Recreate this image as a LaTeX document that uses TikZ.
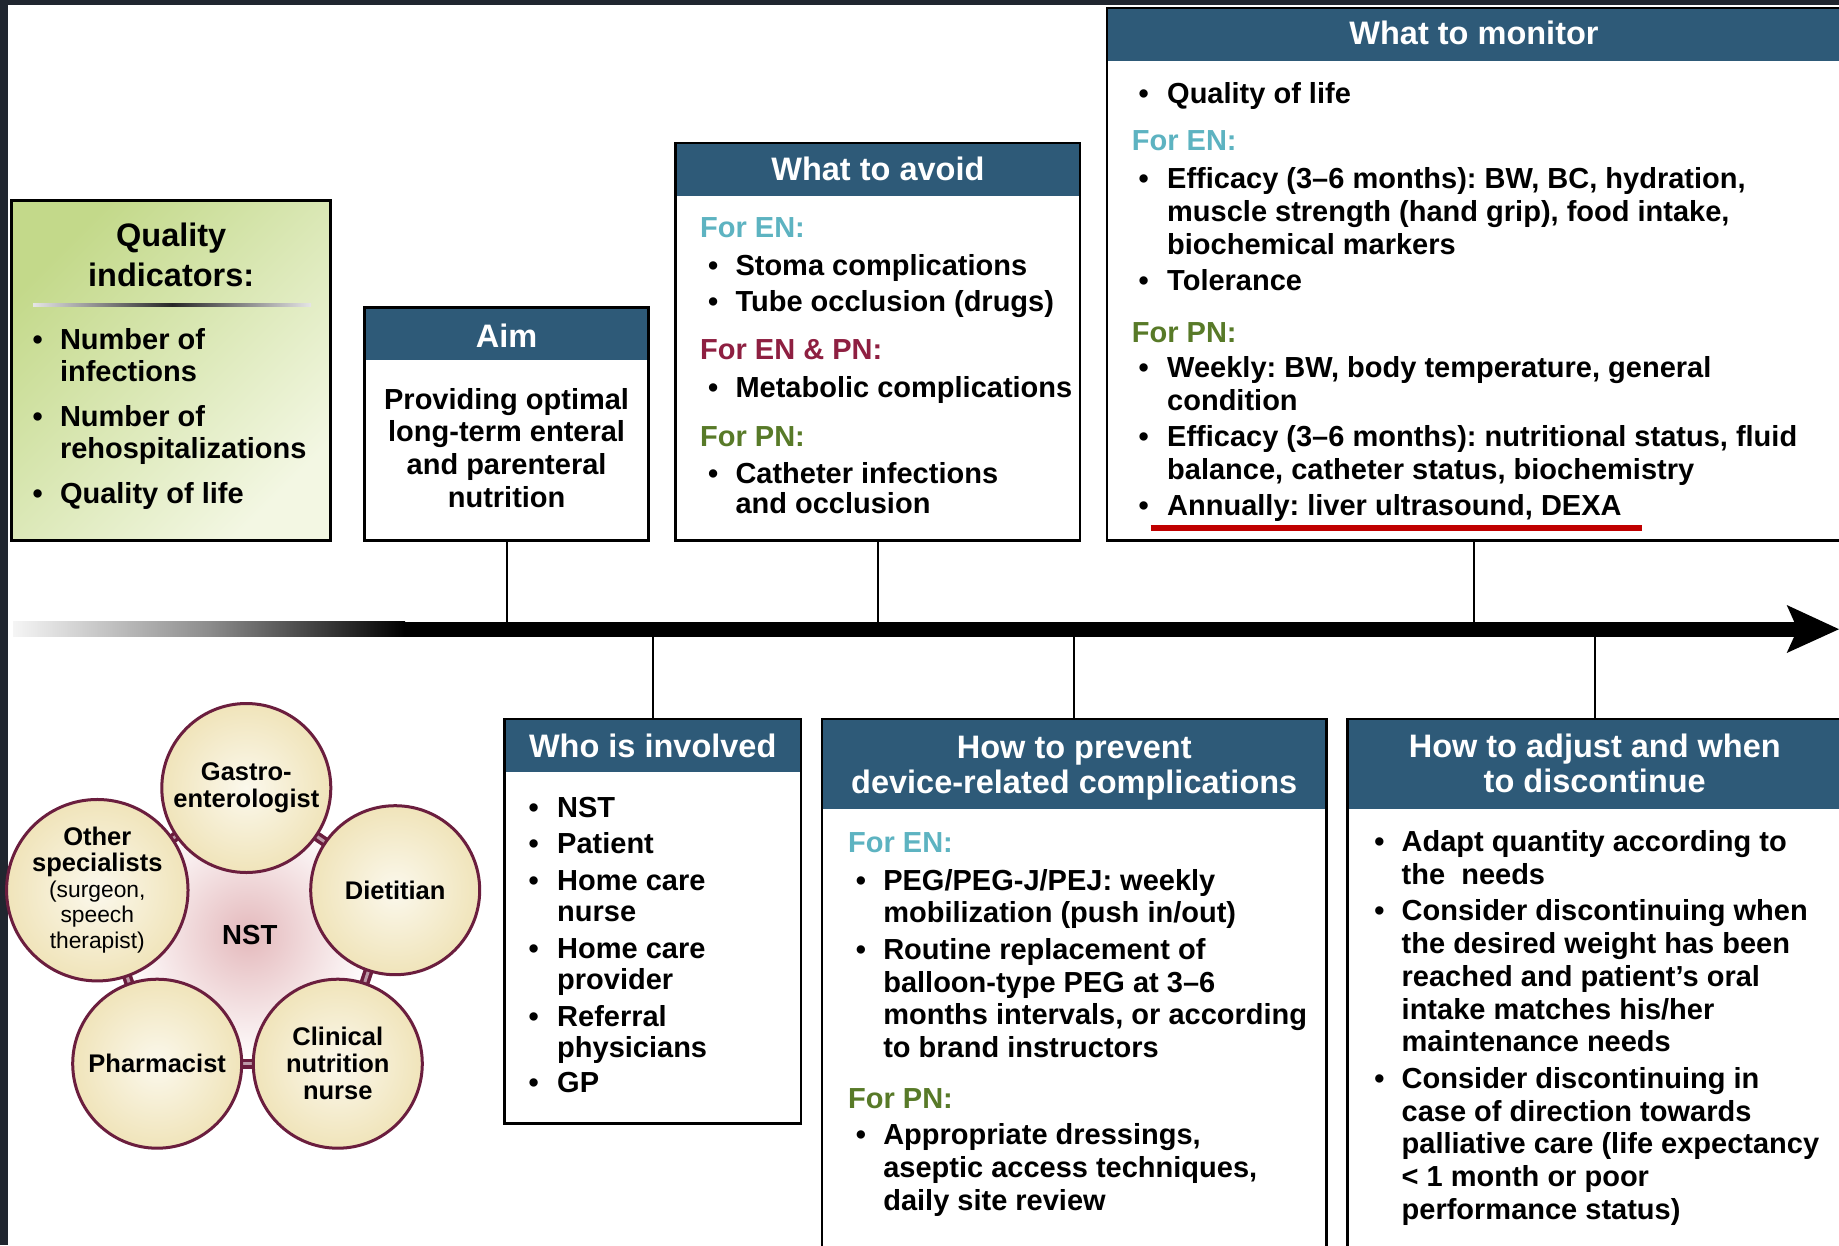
\documentclass[tikz,border=0pt]{standalone}
\usepackage{fontspec}
\setmainfont{Liberation Sans}
\usetikzlibrary{calc}
\frenchspacing
\definecolor{hdr}{HTML}{2E5A78}
\definecolor{enc}{HTML}{5DB3C1}
\definecolor{bothc}{HTML}{8E1F41}
\definecolor{pnc}{HTML}{587A28}
\definecolor{maroon}{HTML}{6B1E3E}
\definecolor{cream}{HTML}{F0E4BA}
\definecolor{creamL}{HTML}{FBF8EC}
\definecolor{qigreen}{HTML}{C3D98A}
\definecolor{qipale}{HTML}{F3F7E3}
\definecolor{framec}{HTML}{20262F}
\definecolor{nstpink}{HTML}{E4B9BC}
\definecolor{redline}{HTML}{C00000}
\tikzset{
  boxline/.style={draw=black, line width=2.5pt},
  boxbg/.style={rectangle, fill=white, draw=black, line width=2.5pt, inner sep=0pt, outer sep=0pt, anchor=north west},
  hdrbg/.style={rectangle, fill=hdr, inner sep=0pt, outer sep=0pt, anchor=north west},
  hdrtxt/.style={text=white, font=\bfseries\fontsize{32.5}{35.2}\selectfont, align=center, inner sep=0pt},
  bodytxt/.style={font=\bfseries\fontsize{29}{33}\selectfont, inner sep=0pt, anchor=base west},
  conn/.style={draw=black, line width=2pt},
  circ/.style={circle, draw=maroon, line width=3pt, minimum size=169pt, inner sep=0pt, inner color=creamL, outer color=cream, align=center, font=\bfseries\fontsize{25.5}{27}\selectfont},
  link/.style={draw=maroon, line width=3.5pt, double=maroon!45!white, double distance=3pt},
}
\newcommand\myTL[4]{\node[bodytxt] (#1) at (#2,{#3+10.4}) {#4};}
\newcommand\myBL[5]{\node[bodytxt] (#1b) at ({#2-5.1},{#4+10.4}) {•};\node[bodytxt] (#1) at (#3,{#4+10.4}) {#5};}
\newcommand\myHL[5]{\node[bodytxt,text=#5] (#1) at (#2,{#3+10.4}) {#4};}
\newcommand\myrg{\mdseries\fontsize{22.8}{25.8}\selectfont}
\begin{document}
\begin{tikzpicture}[x=1pt,y=-1pt]
\useasboundingbox (0,0) rectangle (1839,1245);
\fill[white] (0,0) rectangle (1839,1245);
\fill[framec] (0,0) rectangle (1839,4.5);
\fill[framec] (0,0) rectangle (7.5,1245);

% ---------- Quality indicators
\node[boxbg, top color=qigreen, bottom color=qipale, shading angle=45, minimum width=319pt, minimum height=340.2pt] (qi) at (11.7,200.5) {};
\node[font=\bfseries\fontsize{32.5}{40}\selectfont, align=center, inner sep=0pt] (qiT) at (171.2,254.4) {Quality\\indicators:};
\shade[left color=black!10, right color=black!10, middle color=black!85] (33,303.8) rectangle (311,306.6);
\myBL{qi1}{37.5}{59.8}{339}{Number of}
\myTL{qi1c}{59.8}{370.6}{infections}
\myBL{qi2}{37.5}{59.8}{416.3}{Number of}
\myTL{qi2c}{59.8}{448}{rehospitalizations}
\myBL{qi3}{37.5}{59.8}{492.6}{Quality of life}

% ---------- Aim
\node[boxbg, minimum width=283.9pt, minimum height=233.4pt] (aim) at (364.7,307.3) {};
\node[hdrbg, minimum width=283.9pt, minimum height=52.7pt] (aimH) at (aim.north west) {};
\draw[boxline] (aim.north west) rectangle (aim.south east);
\node[hdrtxt] (aimT) at (506.6,335.4) {Aim};
\node[font=\bfseries\fontsize{29}{32.8}\selectfont, align=center, inner sep=0pt] (aimB) at (506.6,448) {Providing optimal\\long-term enteral\\and parenteral\\nutrition};

% ---------- What to avoid
\node[boxbg, minimum width=404.7pt, minimum height=397.6pt] (avoid) at (675.5,143.1) {};
\node[hdrbg, minimum width=404.7pt, minimum height=52.8pt] (avoidH) at (avoid.north west) {};
\draw[boxline] (avoid.north west) rectangle (avoid.south east);
\node[hdrtxt] (avoidT) at (877.9,168.9) {What to avoid};
\myHL{av0}{700}{227.5}{For EN:}{enc}
\myBL{av1}{713}{735.3}{265}{Stoma complications}
\myBL{av2}{713}{735.3}{301.4}{Tube occlusion (drugs)}
\myHL{av3}{700}{349.5}{For EN \& PN:}{bothc}
\myBL{av4}{713}{735.3}{387}{Metabolic complications}
\myHL{av5}{700}{436.3}{For PN:}{pnc}
\myBL{av6}{713}{735.3}{472.6}{Catheter infections}
\myTL{av6c}{735.3}{503.1}{and occlusion}

% ---------- What to monitor
\node[boxbg, minimum width=734pt, minimum height=532.5pt] (mon) at (1107,8.2) {};
\node[hdrbg, minimum width=734pt, minimum height=52.8pt] (monH) at (mon.north west) {};
\draw[boxline] (mon.north west) rectangle (mon.south east);
\node[hdrtxt] (monT) at (1474,32.8) {What to monitor};
\myBL{mo1}{1143.5}{1167}{92.7}{Quality of life}
\myHL{mo2}{1131.7}{139.6}{For EN:}{enc}
\myBL{mo3}{1143.5}{1167}{178.3}{Efficacy (3–6 months): BW, BC, hydration,}
\myTL{mo3c}{1167}{211.1}{muscle strength (hand grip), food intake,}
\myTL{mo3d}{1167}{243.9}{biochemical markers}
\myBL{mo4}{1143.5}{1167}{280.3}{Tolerance}
\myHL{mo5}{1131.7}{331.9}{For PN:}{pnc}
\myBL{mo6}{1143.5}{1167}{367.1}{Weekly: BW, body temperature, general}
\myTL{mo6c}{1167}{399.9}{condition}
\myBL{mo7}{1143.5}{1167}{436.3}{Efficacy (3–6 months): nutritional status, fluid}
\myTL{mo7c}{1167}{469.1}{balance, catheter status, biochemistry}
\myBL{mo8}{1143.5}{1167}{505.5}{Annually: liver ultrasound, DEXA}
\draw[redline, line width=6pt] (1150.5,528.4) -- (1641.9,528.4);

% ---------- Who is involved
\node[boxbg, minimum width=296.7pt, minimum height=404.5pt] (who) at (504.3,719) {};
\node[hdrbg, minimum width=296.7pt, minimum height=52.7pt] (whoH) at (who.north west) {};
\draw[boxline] (who.north west) rectangle (who.south east);
\node[hdrtxt] (whoT) at (652.7,745.9) {Who is involved};
\myBL{wh1}{533.6}{557}{806.9}{NST}
\myBL{wh2}{533.6}{557}{843.2}{Patient}
\myBL{wh3}{533.6}{557}{879.6}{Home care}
\myTL{wh3c}{557}{911.3}{nurse}
\myBL{wh4}{533.6}{557}{947.6}{Home care}
\myTL{wh4c}{557}{979.3}{provider}
\myBL{wh5}{533.6}{557}{1015.6}{Referral}
\myTL{wh5c}{557}{1047.3}{physicians}
\myBL{wh6}{533.6}{557}{1082.5}{GP}

% ---------- How to prevent
\node[boxbg, minimum width=504.3pt, minimum height=535pt] (prev) at (822.1,719) {};
\node[hdrbg, minimum width=504.3pt, minimum height=90.2pt] (prevH) at (prev.north west) {};
\draw[boxline] (prev.north west) rectangle (prev.south east);
\node[hdrtxt] (prevT) at (1074.25,768.2) {How to prevent\\device-related complications};
\myHL{pr0}{848}{842}{For EN:}{enc}
\myBL{pr1}{860.8}{883.1}{879.6}{PEG/PEG-J/PEJ: weekly}
\myTL{pr1c}{883.1}{912.4}{mobilization (push in/out)}
\myBL{pr2}{860.8}{883.1}{948.8}{Routine replacement of}
\myTL{pr2c}{883.1}{981.6}{balloon-type PEG at 3–6}
\myTL{pr2d}{883.1}{1014.5}{months intervals, or according}
\myTL{pr2e}{883.1}{1047.3}{to brand instructors}
\myHL{pr3}{848}{1097.7}{For PN:}{pnc}
\myBL{pr4}{860.8}{883.1}{1134.1}{Appropriate dressings,}
\myTL{pr4c}{883.1}{1166.9}{aseptic access techniques,}
\myTL{pr4d}{883.1}{1199.8}{daily site review}

% ---------- How to adjust
\node[boxbg, minimum width=494.5pt, minimum height=535pt] (adj) at (1347.5,719) {};
\node[hdrbg, minimum width=494.5pt, minimum height=90.2pt] (adjH) at (adj.north west) {};
\draw[boxline] (adj.north west) rectangle (adj.south east);
\node[hdrtxt] (adjT) at (1594.75,763.4) {How to adjust and when\\to discontinue};
\myBL{ad1}{1379.2}{1401.5}{840.9}{Adapt quantity according to}
\myTL{ad1c}{1401.5}{873.7}{the~~needs}
\myBL{ad2}{1379.2}{1401.5}{910.1}{Consider discontinuing when}
\myTL{ad2c}{1401.5}{942.9}{the desired weight has been}
\myTL{ad2d}{1401.5}{975.8}{reached and patient’s oral}
\myTL{ad2e}{1401.5}{1008.6}{intake matches his/her}
\myTL{ad2f}{1401.5}{1041.4}{maintenance needs}
\myBL{ad3}{1379.2}{1401.5}{1077.8}{Consider discontinuing in}
\myTL{ad3c}{1401.5}{1110.6}{case of direction towards}
\myTL{ad3d}{1401.5}{1143.5}{palliative care (life expectancy}
\myTL{ad3e}{1401.5}{1176.3}{< 1 month or poor}
\myTL{ad3f}{1401.5}{1209.2}{performance status)}

% ---------- connectors and timeline
\coordinate (tl) at (900,629.2);
\draw[conn] (aim.south) -- (aim.south |- tl);
\draw[conn] (avoid.south) -- (avoid.south |- tl);
\draw[conn] (mon.south) -- (mon.south |- tl);
\draw[conn] (who.north) -- (who.north |- tl);
\draw[conn] (prev.north) -- (prev.north |- tl);
\draw[conn] (adj.north) -- (adj.north |- tl);
\shade[left color=black!4, right color=black, middle color=black!45] (13,621.7) rectangle (405,636.7);
\fill[black] (404,621.7) rectangle (1798,636.7);
\fill[black] (1786.7,605) -- (1839,629.2) -- (1786.7,653) -- (1797.5,629.2) -- cycle;

% ---------- NST
\shade[inner color=nstpink, outer color=white] (248,935) circle (128);
\coordinate (cgas) at (246.3,788);
\coordinate (cdie) at (395.2,890.2);
\coordinate (ccli) at (337.8,1063.7);
\coordinate (cpha) at (157.2,1063.7);
\coordinate (coth) at (97.3,890.2);
\draw[link] (cgas) -- (cdie);
\draw[link] (cdie) -- (ccli);
\draw[link] (ccli) -- (cpha);
\draw[link] (cpha) -- (coth);
\draw[link] (coth) -- (cgas);
\node[circ] (gas) at (cgas) {Gastro-\\enterologist};
\node[circ] (die) at (cdie) {Dietitian};
\node[circ] (cli) at (ccli) {Clinical\\nutrition\\nurse};
\node[circ] (pha) at (cpha) {Pharmacist};
\node[circ, font=\bfseries\fontsize{25.5}{25.8}\selectfont] (oth) at (coth) {Other\\specialists\\{\myrg (surgeon,}\\{\myrg speech}\\{\myrg therapist)}};
\node[font=\bfseries\fontsize{27.6}{30}\selectfont, inner sep=0pt] (nst) at (249.8,934.7) {NST};
\end{tikzpicture}
\end{document}
